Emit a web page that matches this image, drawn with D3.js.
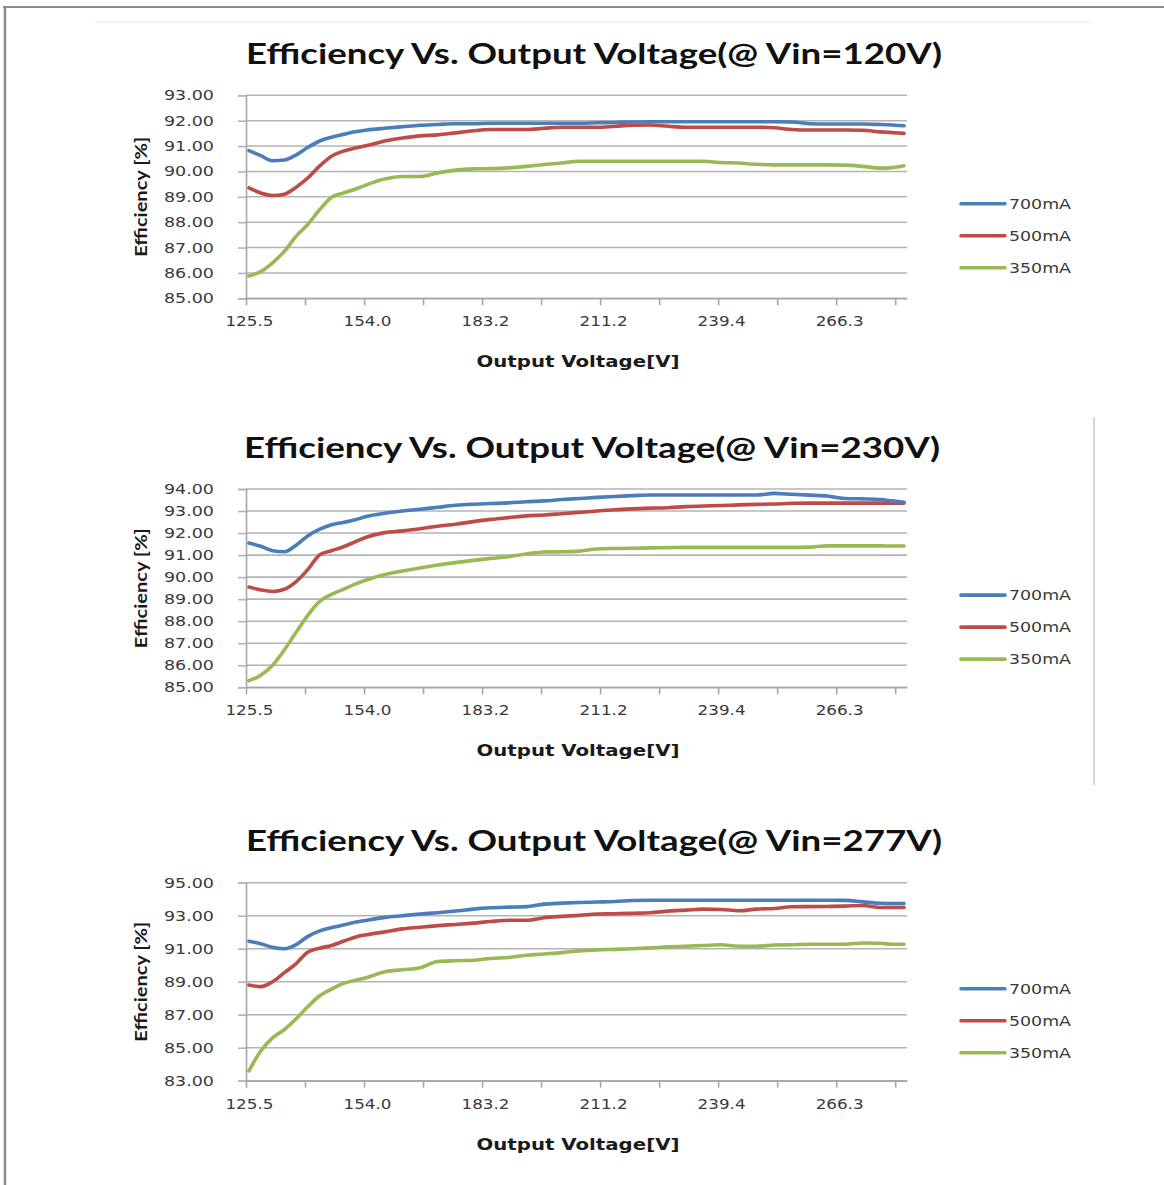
<!DOCTYPE html>
<html><head><meta charset="utf-8">
<script src="https://cdn.jsdelivr.net/npm/d3@7"></script>
<style>html,body{margin:0;padding:0;background:#fff;}svg{display:block;}</style>
</head><body>
<svg id="c" width="1164" height="1185"></svg>
<script>
// ---------- data ----------
const seriesNames = ["700mA", "500mA", "350mA"];
const seriesColors = ["#4a7ebb", "#be4b48", "#98b954"];
const titles = ["Efficiency Vs. Output Voltage(@ Vin=120V)", "Efficiency Vs. Output Voltage(@ Vin=230V)", "Efficiency Vs. Output Voltage(@ Vin=277V)"];
const xLabels = ["125.5", "154.0", "183.2", "211.2", "239.4", "266.3"];
const xLabelIdx = [0, 20, 40, 60, 80, 100];
const categoryCount = 112;
const idx = [0,2,4,6,8,10,12,14,16,18,20,23,26,29,32,35,38,41,44,47,50,53,56,59,62,65,68,71,74,77,80,83,86,89,92,95,98,101,104,107,109,111];

const yTicks120 = [85,86,87,88,89,90,91,92,93];
const yTicks230 = [85,86,87,88,89,90,91,92,93,94];
const yTicks277 = [83,85,87,89,91,93,95];

const v120_700 = [90.82,90.62,90.42,90.45,90.65,90.95,91.2,91.35,91.46,91.56,91.63,91.70,91.76,91.82,91.85,91.88,91.88,91.9,91.9,91.9,91.9,91.9,91.9,91.92,91.93,91.95,91.96,91.96,91.96,91.96,91.96,91.96,91.96,91.96,91.95,91.88,91.87,91.87,91.87,91.85,91.83,91.8];
const v120_500 = [89.35,89.15,89.05,89.1,89.38,89.75,90.22,90.6,90.8,90.92,91.02,91.2,91.32,91.4,91.44,91.52,91.6,91.65,91.65,91.65,91.7,91.74,91.74,91.74,91.78,91.82,91.83,91.78,91.74,91.74,91.74,91.74,91.74,91.72,91.65,91.63,91.63,91.63,91.62,91.56,91.53,91.5];
const v120_350 = [85.88,86.05,86.4,86.85,87.45,87.92,88.5,88.98,89.15,89.3,89.48,89.7,89.8,89.8,89.94,90.05,90.1,90.11,90.14,90.2,90.27,90.33,90.4,90.4,90.4,90.4,90.4,90.4,90.4,90.4,90.35,90.33,90.28,90.26,90.26,90.26,90.26,90.25,90.2,90.13,90.15,90.22];

const v230_700 = [91.55,91.4,91.2,91.15,91.45,91.88,92.18,92.38,92.48,92.6,92.76,92.9,93.0,93.08,93.17,93.26,93.31,93.34,93.37,93.42,93.46,93.52,93.57,93.62,93.66,93.7,93.73,93.73,93.73,93.73,93.73,93.73,93.73,93.8,93.76,93.72,93.68,93.57,93.55,93.52,93.46,93.4];
const v230_500 = [89.55,89.42,89.35,89.45,89.8,90.35,91.02,91.2,91.38,91.6,91.82,92.02,92.1,92.2,92.31,92.4,92.52,92.62,92.7,92.78,92.82,92.88,92.94,93.0,93.06,93.1,93.13,93.15,93.2,93.23,93.25,93.28,93.3,93.32,93.35,93.36,93.36,93.36,93.36,93.36,93.36,93.36];
const v230_350 = [85.3,85.55,86.0,86.7,87.5,88.28,88.9,89.22,89.45,89.68,89.88,90.12,90.28,90.42,90.55,90.66,90.76,90.85,90.93,91.05,91.14,91.15,91.18,91.28,91.3,91.31,91.33,91.34,91.35,91.35,91.35,91.35,91.35,91.35,91.35,91.36,91.42,91.42,91.42,91.42,91.41,91.41];

const v277_700 = [91.45,91.3,91.08,91.0,91.25,91.75,92.08,92.28,92.43,92.6,92.73,92.9,93.0,93.1,93.18,93.28,93.4,93.48,93.52,93.55,93.7,93.76,93.8,93.83,93.86,93.92,93.94,93.94,93.94,93.94,93.94,93.94,93.94,93.94,93.94,93.94,93.94,93.93,93.84,93.75,93.74,93.74];
const v277_500 = [88.8,88.7,89.0,89.55,90.1,90.8,91.03,91.2,91.45,91.7,91.85,92.02,92.2,92.3,92.4,92.47,92.55,92.65,92.72,92.72,92.88,92.96,93.02,93.1,93.12,93.15,93.18,93.28,93.34,93.4,93.38,93.3,93.4,93.44,93.54,93.55,93.56,93.58,93.62,93.5,93.5,93.5];
const v277_350 = [83.6,84.8,85.6,86.1,86.75,87.5,88.15,88.55,88.9,89.08,89.25,89.6,89.72,89.85,90.22,90.27,90.3,90.41,90.47,90.6,90.68,90.76,90.87,90.93,90.96,91.0,91.05,91.11,91.15,91.19,91.24,91.15,91.15,91.22,91.24,91.27,91.27,91.27,91.35,91.33,91.27,91.27];

// ---------- layout ----------
const charts = [
  {title: titles[0], ticks: yTicks120, series: [v120_700, v120_500, v120_350], top: 95.3, bottom: 298.3, titleY: 64, titleX: 246},
  {title: titles[1], ticks: yTicks230, series: [v230_700, v230_500, v230_350], top: 489, bottom: 687.3, titleY: 458, titleX: 244},
  {title: titles[2], ticks: yTicks277, series: [v277_700, v277_500, v277_350], top: 882.7, bottom: 1080.7, titleY: 851, titleX: 246}
];
const left = 246, right = 907;

const svg = d3.select("#c");

function fit(sel, w) {
  sel.attr("textLength", w).attr("lengthAdjust", "spacingAndGlyphs");
}

// frame
svg.append("line").attr("x1", 3).attr("x2", 1164).attr("y1", 7).attr("y2", 7).attr("stroke", "#8c8c8c").attr("stroke-width", 2);
svg.append("line").attr("x1", 5).attr("x2", 5).attr("y1", 6).attr("y2", 1185).attr("stroke", "#8c8c8c").attr("stroke-width", 2.5);
svg.append("line").attr("x1", 95).attr("x2", 1090).attr("y1", 22).attr("y2", 22).attr("stroke", "#f1f1f1").attr("stroke-width", 1.5);
svg.append("line").attr("x1", 1094).attr("x2", 1094).attr("y1", 417).attr("y2", 785).attr("stroke", "#d6d6d6").attr("stroke-width", 2);

const x = d3.scaleLinear().domain([0, categoryCount]).range([left, right]);

charts.forEach((c, ci) => {
  const g = svg.append("g");
  const y = d3.scaleLinear().domain([d3.min(c.ticks), d3.max(c.ticks)]).range([c.bottom, c.top]);

  // gridlines
  g.append("g").selectAll("line").data(c.ticks).join("line")
    .attr("x1", left).attr("x2", right)
    .attr("y1", d => y(d)).attr("y2", d => y(d))
    .attr("stroke", "#b4b4b4").attr("stroke-width", 1.6);

  // y axis
  const ya = g.append("g").attr("transform", `translate(${left},0)`)
    .call(d3.axisLeft(y).tickValues(c.ticks).tickFormat(d3.format(".2f")).tickSize(8).tickPadding(16));
  ya.select(".domain").attr("stroke", "#a6a6a6").attr("stroke-width", 1.6);
  ya.selectAll(".tick line").attr("stroke", "#b4b4b4").attr("stroke-width", 1.6);
  ya.selectAll(".tick text").attr("font-family", "DejaVu Sans").attr("font-size", 14).attr("fill", "#3a3a3a").attr("dx", -8)
    .each(function () { fit(d3.select(this), 50); });

  // x axis ticks (category boundaries)
  const xa = g.append("g").attr("transform", `translate(0,${c.bottom})`)
    .call(d3.axisBottom(x).tickValues(d3.range(0, categoryCount, 10)).tickFormat("").tickSize(7).tickSizeOuter(0));
  xa.select(".domain").attr("stroke", "#a6a6a6").attr("stroke-width", 1.6);
  xa.selectAll(".tick line").attr("stroke", "#a6a6a6").attr("stroke-width", 1.6);

  // x labels centred on categories
  const xl = g.append("g").attr("transform", `translate(0,${c.bottom})`)
    .call(d3.axisBottom(x).tickValues(xLabelIdx.map(d => d + 0.5)).tickFormat((d, i) => xLabels[i]).tickSize(0).tickPadding(18));
  xl.select(".domain").remove();
  xl.selectAll(".tick text").attr("font-family", "DejaVu Sans").attr("font-size", 14).attr("fill", "#3a3a3a")
    .each(function () { fit(d3.select(this), 48); });

  // title
  const t = g.append("text").attr("x", c.titleX).attr("y", c.titleY).text(c.title)
    .attr("font-family", "Lato").attr("font-weight", 700).attr("font-size", 29).attr("fill", "#111");
  fit(t, 696);

  // x axis title
  const xt = g.append("text").attr("x", 578).attr("y", c.bottom + 69).attr("text-anchor", "middle").text("Output Voltage[V]")
    .attr("font-family", "DejaVu Sans").attr("font-weight", 700).attr("font-size", 16).attr("fill", "#1a1a1a");
  fit(xt, 203);

  // y axis title
  const yt = g.append("text").attr("transform", `translate(147,${(c.top + c.bottom) / 2}) rotate(-90)`)
    .attr("text-anchor", "middle").text("Efficiency [%]")
    .attr("font-family", "Lato").attr("font-weight", 700).attr("font-size", 17).attr("fill", "#1a1a1a");
  fit(yt, 120);

  // lines
  const line = d3.line().x(d => x(d[0] + 0.5)).y(d => y(d[1])).curve(d3.curveMonotoneX);
  [2, 1, 0].forEach(si => {
    g.append("path").datum(idx.map((d, k) => [d, c.series[si][k]]))
      .attr("d", line).attr("fill", "none").attr("stroke", seriesColors[si])
      .attr("stroke-width", 3.6).attr("stroke-linejoin", "round").attr("stroke-linecap", "round");
  });

  // legend
  const ly0 = (c.top + c.bottom) / 2 + 39;
  seriesNames.forEach((n, si) => {
    const ly = ly0 + (si - 1) * 32;
    g.append("line").attr("x1", 961).attr("x2", 1005).attr("y1", ly).attr("y2", ly)
      .attr("stroke", seriesColors[si]).attr("stroke-width", 3.6).attr("stroke-linecap", "round");
    const lt = g.append("text").attr("x", 1009).attr("y", ly + 5).text(n)
      .attr("font-family", "DejaVu Sans").attr("font-size", 14).attr("fill", "#3a3a3a");
    fit(lt, 62);
  });
});
</script>
</body></html>
